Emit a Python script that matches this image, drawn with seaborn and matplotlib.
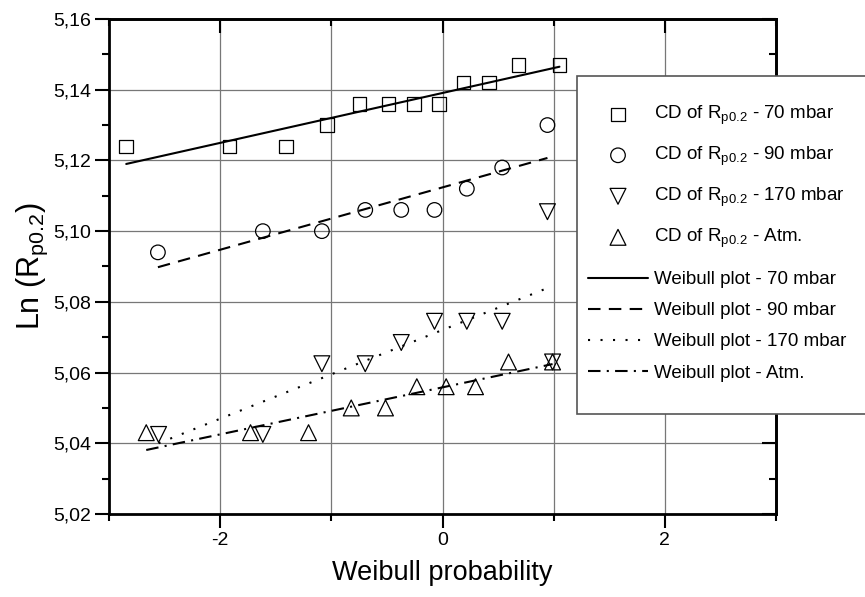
import numpy as np
import pandas as pd
import matplotlib
matplotlib.use('Agg')
import matplotlib.pyplot as plt
import seaborn as sns
from matplotlib.ticker import MultipleLocator
from matplotlib.patches import Rectangle

# Data
x_70 = [-2.845, -1.915, -1.406, -1.041, -0.746, -0.486, -0.258, -0.033, 0.189, 0.416, 0.683, 1.052]
y_70 = [5.124, 5.124, 5.124, 5.130, 5.136, 5.136, 5.136, 5.136, 5.142, 5.142, 5.147, 5.147]

x_90 = [-2.56, -1.616, -1.085, -0.695, -0.371, -0.072, 0.219, 0.537, 0.944]
y_90 = [5.094, 5.100, 5.100, 5.106, 5.106, 5.106, 5.112, 5.118, 5.130]

x_170 = [-2.554, -1.616, -1.085, -0.695, -0.371, -0.072, 0.219, 0.537, 0.944, 0.99]
y_170 = [5.0425, 5.0425, 5.0625, 5.0625, 5.0685, 5.0745, 5.0745, 5.0745, 5.1055, 5.063]

x_atm = [-2.665, -1.727, -1.205, -0.821, -0.513, -0.231, 0.033, 0.297, 0.594, 0.99]
y_atm = [5.043, 5.043, 5.043, 5.050, 5.050, 5.056, 5.056, 5.056, 5.063, 5.063]

# Weibull fit lines (end points)
fit_70_x = [-2.845, 1.052]
fit_70_y = [5.119, 5.1465]
fit_90_x = [-2.56, 0.944]
fit_90_y = [5.0898, 5.1207]
fit_170_x = [-2.554, 0.944]
fit_170_y = [5.0400, 5.0839]
fit_atm_x = [-2.665, 0.99]
fit_atm_y = [5.0381, 5.0624]

y_ticks = [5.02, 5.04, 5.06, 5.08, 5.10, 5.12, 5.14, 5.16]
y_tick_labels = ['5,02', '5,04', '5,06', '5,08', '5,10', '5,12', '5,14', '5,16']
x_ticks = [-2, 0, 2]
x_tick_labels = ['-2', '0', '2']

sns.set_theme(style='white')
plt.rcParams['font.family'] = ['Liberation Sans', 'DejaVu Sans']
plt.rcParams['mathtext.fontset'] = 'custom'
plt.rcParams['mathtext.rm'] = 'Liberation Sans'
plt.rcParams['mathtext.it'] = 'Liberation Sans'
plt.rcParams['mathtext.default'] = 'regular'
plt.rcParams['text.color'] = 'black'
plt.rcParams['axes.labelcolor'] = 'black'
plt.rcParams['xtick.color'] = 'black'
plt.rcParams['ytick.color'] = 'black'

fig = plt.figure(figsize=(8.65, 5.97), dpi=100)
ax = fig.add_axes([109/865, 1-514/597, (776-109)/865, (514-19)/597])

# grid
for v in range(-2, 3):
    ax.axvline(v, color='#777777', lw=0.9, zorder=0)
for v in y_ticks[1:-1]:
    ax.axhline(v, color='#777777', lw=0.9, zorder=0)

mk = dict(facecolors='none', edgecolors='black', linewidth=0.9, zorder=3)
sns.scatterplot(x=x_70, y=y_70, marker='s', s=95, ax=ax, label=r'CD of R$_{p0.2}$ - 70 mbar', **mk)
sns.scatterplot(x=x_90, y=y_90, marker='o', s=110, ax=ax, label=r'CD of R$_{p0.2}$ - 90 mbar', **mk)
sns.scatterplot(x=x_170, y=y_170, marker='v', s=130, ax=ax, label=r'CD of R$_{p0.2}$ - 170 mbar', **mk)
sns.scatterplot(x=x_atm, y=y_atm, marker='^', s=130, ax=ax, label=r'CD of R$_{p0.2}$ - Atm.', **mk)

sns.lineplot(x=fit_70_x, y=fit_70_y, color='black', lw=1.5, linestyle='-', sort=False, estimator=None, ax=ax, label='Weibull plot - 70 mbar')
sns.lineplot(x=fit_90_x, y=fit_90_y, color='black', lw=1.5, linestyle=(0, (6, 4)), sort=False, estimator=None, ax=ax, label='Weibull plot - 90 mbar')
sns.lineplot(x=fit_170_x, y=fit_170_y, color='black', lw=1.5, linestyle=(0, (1, 5)), sort=False, estimator=None, ax=ax, label='Weibull plot - 170 mbar')
sns.lineplot(x=fit_atm_x, y=fit_atm_y, color='black', lw=1.5, linestyle=(0, (6, 3, 1, 3)), sort=False, estimator=None, ax=ax, label='Weibull plot - Atm.')
if ax.get_legend() is not None:
    ax.get_legend().remove()

ax.set_xlim(-3, 3)
ax.set_ylim(5.02, 5.16)
ax.set_xticks(x_ticks)
ax.set_xticklabels(x_tick_labels)
ax.set_yticks(y_ticks)
ax.set_yticklabels(y_tick_labels)
ax.xaxis.set_minor_locator(MultipleLocator(1))
ax.yaxis.set_minor_locator(MultipleLocator(0.01))
ax.tick_params(axis='both', which='major', direction='out', length=10, width=1.5, labelsize=14, color='black', pad=3, bottom=True, left=True)
ax.tick_params(axis='both', which='minor', direction='out', length=5, width=1.5, color='black', bottom=True, left=True)
for s in ax.spines.values():
    s.set_linewidth(2)
    s.set_color('black')

# inward ticks on the opposite sides
top = ax.secondary_xaxis('top')
top.set_xticks(x_ticks)
top.xaxis.set_minor_locator(MultipleLocator(1))
top.tick_params(which='major', direction='in', length=10, width=1.5, labeltop=False, color='black')
top.tick_params(which='minor', direction='in', length=5, width=1.5, color='black')
top.spines['top'].set_linewidth(2)
right = ax.secondary_yaxis('right')
right.set_yticks(y_ticks)
right.yaxis.set_minor_locator(MultipleLocator(0.01))
right.tick_params(which='major', direction='in', length=10, width=1.5, labelright=False, color='black')
right.tick_params(which='minor', direction='in', length=5, width=1.5, color='black')
right.spines['right'].set_linewidth(2)

ax.set_xlabel('Weibull probability', fontsize=19.5, labelpad=8)
ax.set_ylabel(r'Ln (R$_{p0.2}$)', fontsize=22, labelpad=2)

# legend box
fig.patches.append(Rectangle((577/865, 1-414/597), 300/865, (414-76)/597, transform=fig.transFigure,
                             facecolor='white', edgecolor='#555555', lw=1.2, zorder=5))
handles, labels = ax.get_legend_handles_labels()
leg1 = fig.legend(handles[:4], labels[:4], loc='upper left', bbox_to_anchor=(588/865, 1-104/597),
                  frameon=False, fontsize=13.5, handlelength=3.2, handletextpad=0.3,
                  labelspacing=0.95, borderpad=0, borderaxespad=0)
leg1.set_zorder(6)
leg2 = fig.legend(handles[4:], labels[4:], loc='upper left', bbox_to_anchor=(588/865, 1-271/597),
                  frameon=False, fontsize=13.5, handlelength=3.2, handletextpad=0.3,
                  labelspacing=0.75, borderpad=0, borderaxespad=0)
leg2.set_zorder(6)

fig.savefig('out.png', dpi=100)
